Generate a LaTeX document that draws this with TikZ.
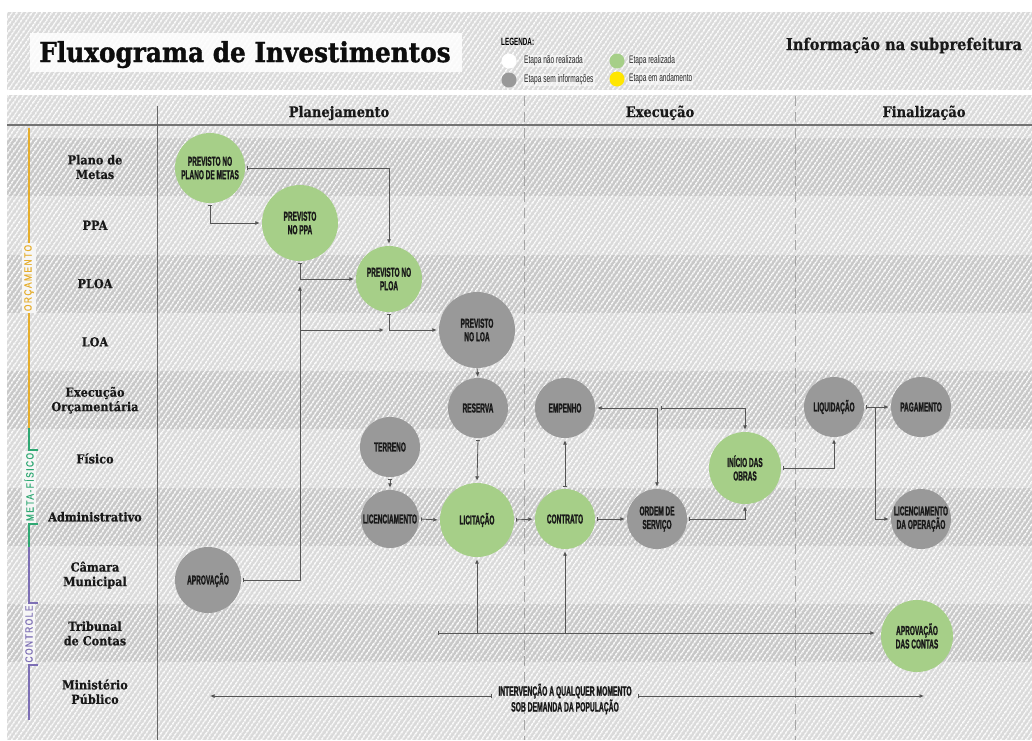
\documentclass[tikz,border=0pt]{standalone}
\usepackage{fontspec}
\setmainfont{DejaVu Serif}
\newfontfamily\serifb[FakeStretch=0.9,FakeBold=0.5]{DejaVu Serif}
\newfontfamily\titlef[FakeStretch=0.9,FakeBold=1.2]{DejaVu Serif}
\newfontfamily\condb[FakeStretch=0.5,FakeBold=1.2]{Liberation Sans}
\newfontfamily\condl[FakeStretch=0.6]{Liberation Sans}
\newfontfamily\condk[FakeStretch=0.8,LetterSpace=14,FakeBold=0.6]{Liberation Sans}
\usetikzlibrary{arrows.meta,patterns.meta}
\definecolor{gr}{HTML}{A6CF88}
\definecolor{gy}{HTML}{999999}
\definecolor{bgl}{HTML}{DADADA}
\definecolor{bgd}{HTML}{C8C8C8}
\definecolor{lnc}{HTML}{555555}
\definecolor{orc}{HTML}{E5AE2E}
\definecolor{met}{HTML}{2FA873}
\definecolor{ctl}{HTML}{7D6FB5}
\definecolor{legy}{HTML}{FFE600}
\tikzset{
 stage/.style={circle, inner sep=0pt, align=center, text=black!90, font=\condb\bfseries\fontsize{13}{13.5}\selectfont},
 done/.style={stage, fill=gr},
 noinfo/.style={stage, fill=gy},
 conn/.style={draw=lnc, line width=0.8pt, {Bar[width=4pt,line width=0.8pt]}-{Latex[length=4.5pt,width=4pt]}, shorten >=2pt, shorten <=2pt},
 conj/.style={draw=lnc, line width=0.8pt, -{Latex[length=4.5pt,width=4pt]}, shorten >=2pt},
 conb/.style={draw=lnc, line width=0.8pt, {Latex[length=4.5pt,width=4pt]}-{Latex[length=4.5pt,width=4pt]}, shorten >=2pt, shorten <=2pt},
 rowlab/.style={align=center, font=\serifb\bfseries\fontsize{12.5}{14.5}\selectfont, text=black!90},
 colhead/.style={anchor=base, font=\serifb\bfseries\fontsize{14.5}{16}\selectfont, text=black!90},
 legtxt/.style={anchor=west, font=\condl\fontsize{11}{12}\selectfont, text=black!85, inner sep=1pt, fill=white, fill opacity=0.5, text opacity=1},
 brk/.style={font=\condk\fontsize{10.5}{10.5}\selectfont, rotate=90, inner sep=2pt, fill=white!75!bgl},
 brkline/.style={line width=1.3pt},
 legdot/.style={circle, inner sep=0pt, minimum size=15pt},
}
\begin{document}
\begin{tikzpicture}[x=1pt,y=-1pt]
\useasboundingbox (0,0) rectangle (1032,740);
\fill[white] (0,0) rectangle (1032,740);
% background bands
\fill[bgl] (7,12) rectangle (1032,90);
\fill[bgl] (7,95) rectangle (1032,740);
\foreach \i in {0,2,4,6,8} \fill[bgd] (7,{138+58.3*\i}) rectangle (1032,{196+58.3*\i});
\fill[pattern={Lines[angle=55,distance=4pt,line width=1.5pt]}, pattern color=white] (7,12) rectangle (1032,90);
\fill[pattern={Lines[angle=55,distance=4pt,line width=1.5pt]}, pattern color=white] (7,95) rectangle (1032,740);
% grid lines
\draw[black!55, line width=1.6pt] (7,125) -- (1032,125);
\draw[black!60, line width=1pt] (157,106) -- (157,740);
\draw[black!35, line width=0.6pt, dash pattern=on 10pt off 6pt] (524,96) -- (524,740);
\draw[black!35, line width=0.6pt, dash pattern=on 10pt off 6pt] (795,96) -- (795,740);
% title
\fill[white, opacity=0.85] (30,33) rectangle (462,72);
\node[anchor=base, font=\titlef\bfseries\fontsize{27.5}{30}\selectfont, text=black!95] (title) at (245,62) {Fluxograma de Investimentos};
\node[anchor=base, font=\serifb\bfseries\fontsize{16.2}{18}\selectfont, text=black!90] (info) at (904,50) {Informação na subprefeitura};
% legend
\node[anchor=west, font=\condl\bfseries\fontsize{10.5}{11}\selectfont, inner sep=0pt] (legt) at (501,42) {LEGENDA:};
\node[legdot, fill=white] (l1) at (509,61) {};
\node[legdot, fill=gy] (l2) at (509,80) {};
\node[legdot, fill=gr] (l3) at (617,61) {};
\node[legdot, fill=legy] (l4) at (617,79) {};
\node[legtxt] (t1) at (523,61) {Etapa não realizada};
\node[legtxt] (t2) at (523,80) {Etapa sem informações};
\node[legtxt] (t3) at (628,61) {Etapa realizada};
\node[legtxt] (t4) at (628,79) {Etapa em andamento};
% column headers
\node[colhead] (h1) at (339,117) {Planejamento};
\node[colhead] (h2) at (660,117) {Execução};
\node[colhead] (h3) at (924,117) {Finalização};
% row labels
\node[rowlab] (r0) at (95,167.0) {Plano de\\Metas};
\node[rowlab] (r1) at (95,225.3) {PPA};
\node[rowlab] (r2) at (95,283.6) {PLOA};
\node[rowlab] (r3) at (95,341.9) {LOA};
\node[rowlab] (r4) at (95,400.2) {Execução\\Orçamentária};
\node[rowlab] (r5) at (95,458.5) {Físico};
\node[rowlab] (r6) at (95,516.8) {Administrativo};
\node[rowlab] (r7) at (95,575.1) {Câmara\\Municipal};
\node[rowlab] (r8) at (95,633.4) {Tribunal\\de Contas};
\node[rowlab] (r9) at (95,691.7) {Ministério\\Público};
% brackets
\draw[orc, brkline] (29,128) -- (29,428);
\node[brk, text=orc] (b1) at (29,278) {ORÇAMENTO};
\draw[met, brkline] (29,428) -- (29,547);
\draw[met, brkline] (29,450) -- (38,450);
\draw[met, brkline] (29,524) -- (38,524);
\node[brk, text=met] (b2) at (29,487) {META-FÍSICO};
\draw[ctl, brkline] (29,547) -- (29,720);
\draw[ctl, brkline] (29,603) -- (38,603);
\draw[ctl, brkline] (29,665) -- (38,665);
\node[brk, text=ctl] (b3) at (29,634) {CONTROLE};
% stages
\node[done, minimum size=70pt] (pdm) at (210,168) {PREVISTO NO\\PLANO DE METAS};
\node[done, minimum size=76pt] (ppa) at (300,223) {PREVISTO\\NO PPA};
\node[done, minimum size=66pt] (ploa) at (389,279) {PREVISTO NO\\PLOA};
\node[noinfo, minimum size=76pt] (loa) at (477,330) {PREVISTO\\NO LOA};
\node[noinfo, minimum size=60pt] (res) at (478,408) {RESERVA};
\node[noinfo, minimum size=60pt] (ter) at (390,447) {TERRENO};
\node[noinfo, minimum size=58pt] (lic) at (390,519) {LICENCIAMENTO};
\node[done, minimum size=74pt] (licit) at (477,520) {LICITAÇÃO};
\node[done, minimum size=60pt] (con) at (565,519) {CONTRATO};
\node[noinfo, minimum size=60pt] (emp) at (565,408) {EMPENHO};
\node[noinfo, minimum size=60pt] (ord) at (657,519) {ORDEM DE\\SERVIÇO};
\node[done, minimum size=72pt] (ini) at (745,468) {INÍCIO DAS\\OBRAS};
\node[noinfo, minimum size=60pt] (liq) at (834,407) {LIQUIDAÇÃO};
\node[noinfo, minimum size=60pt] (pag) at (921,407) {PAGAMENTO};
\node[noinfo, minimum size=60pt] (lop) at (921,519) {LICENCIAMENTO\\DA OPERAÇÃO};
\node[noinfo, minimum size=66pt] (apr) at (208,580) {APROVAÇÃO};
\node[done, minimum size=72pt] (apc) at (917,636) {APROVAÇÃO\\DAS CONTAS};
\node[font=\condb\bfseries\fontsize{13.5}{13.5}\selectfont, text=black!90, align=center, inner sep=6pt] (mp) at (565,699) {INTERVENÇÃO A QUALQUER MOMENTO\\SOB DEMANDA DA POPULAÇÃO};
% junction coordinates
\coordinate (c1) at (300,284);
\coordinate (c2) at (300,330);
\coordinate (c3) at (386,330);
\coordinate (j) at (661,408);
\coordinate (k) at (875,407);
\coordinate (t0) at (438,633);
\coordinate (mpl) at (208,696);
\coordinate (mpr) at (926,696);
% connectors
\draw[conn] (pdm.south) |- (ppa.west);
\draw[conn] (pdm.east) -| (ploa.north);
\draw[conn] (ppa.south) |- (ploa.west);
\draw[conn] (apr.east) -| (c1);
\draw[conj] (c2) -- (c3);
\draw[conn] (ploa.south) |- (loa.west);
\draw[conj, shorten >=1pt] (loa.south) -- (res.north);
\draw[conn] (res.south) -- (licit.north);
\draw[conn] (ter.south) -- (lic.north);
\draw[conn] (lic.east) -- (licit.west);
\draw[conn] (licit.east) -- (con.west);
\draw[conn] (con.north) -- (emp.south);
\draw[conn] (con.east) -- (ord.west);
\draw[conn] (ord.east) -| (ini.south);
\draw[conb] (emp.east) -| (ord.north);
\draw[conn, shorten <=0pt] (j) -| (ini.north);
\draw[conn] (ini.east) -| (liq.south);
\draw[conn] (liq.east) -- (pag.west);
\draw[conj] (k) |- (lop.west);
\draw[conn, shorten <=0pt, shorten >=6pt] (t0) -- (apc.west |- t0);
\draw[conj] (licit.south |- t0) -- (licit.south);
\draw[conj] (con.south |- t0) -- (con.south);
\draw[conn, shorten <=0pt] (mp.west |- mpl) -- (mpl);
\draw[conn, shorten <=0pt] (mp.east |- mpr) -- (mpr);
\end{tikzpicture}
\end{document}
